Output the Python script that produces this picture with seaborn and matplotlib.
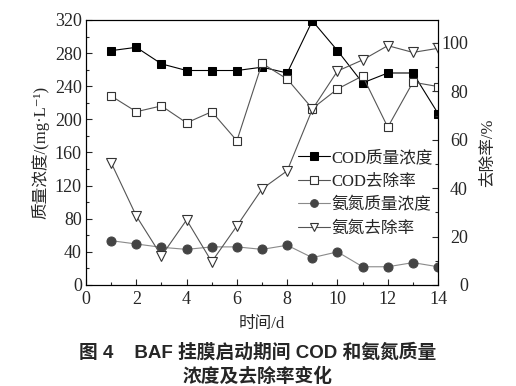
import matplotlib
matplotlib.use("Agg")
import matplotlib.pyplot as plt
from matplotlib.ticker import MultipleLocator
import seaborn as sns
import pandas as pd

days = list(range(1, 15))
cod_conc = [283, 287, 267, 259, 259, 259, 263, 256, 319, 283, 244, 256, 256, 207]
cod_removal = [78.1, 71.6, 74.0, 67.0, 71.6, 59.6, 91.6, 85.1, 72.9, 81.0, 86.4, 65.2, 83.8, 82.0]
nh_conc = [53.5, 49.5, 45.5, 43, 46, 46, 43, 48, 33, 40, 22, 22, 27, 22]
nh_removal = [50.5, 28.5, 12.0, 26.9, 9.6, 24.4, 39.7, 47.2, 72.6, 88.4, 93.0, 98.9, 96.1, 97.8]
labels = ["COD质量浓度", "COD去除率", "氨氮质量浓度", "氨氮去除率"]

sns.set_style("ticks")
plt.rcParams['font.family'] = ['Liberation Serif', 'Noto Sans CJK SC', 'DejaVu Serif']
plt.rcParams['xtick.direction'] = 'in'
plt.rcParams['ytick.direction'] = 'in'

fig = plt.figure(figsize=(5.16, 3.86), dpi=100)
ax = fig.add_axes([0.1667, 0.2617, 0.6823, 0.6865])
ax2 = ax.twinx()

df = pd.DataFrame({"day": days, "cod": cod_conc, "codr": cod_removal,
                   "nh": nh_conc, "nhr": nh_removal})

lw = 0.8
ms = 6
sns.lineplot(data=df, x="day", y="cod", ax=ax, color="black", lw=lw,
             marker="s", markersize=ms, markerfacecolor="black",
             markeredgecolor="black", label=labels[0], legend=False)
sns.lineplot(data=df, x="day", y="nh", ax=ax, color="#8a8a8a", lw=lw,
             marker="o", markersize=ms + 0.5, markerfacecolor="#444444",
             markeredgecolor="#444444", label=labels[2], legend=False)
sns.lineplot(data=df, x="day", y="codr", ax=ax2, color="#555555", lw=lw,
             marker="s", markersize=ms, markerfacecolor="white",
             markeredgecolor="#333333", markeredgewidth=0.8, label=labels[1], legend=False)
sns.lineplot(data=df, x="day", y="nhr", ax=ax2, color="#555555", lw=lw,
             marker="v", markersize=ms + 1.5, markerfacecolor="white",
             markeredgecolor="#333333", markeredgewidth=0.8, label=labels[3], legend=False)

ax.set_xlim(0, 14)
ax.set_ylim(0, 320)
ax2.set_ylim(0, 109.5)
ax.xaxis.set_major_locator(MultipleLocator(2))
ax.xaxis.set_minor_locator(MultipleLocator(1))
ax.yaxis.set_major_locator(MultipleLocator(40))
ax.yaxis.set_minor_locator(MultipleLocator(20))
ax2.yaxis.set_major_locator(MultipleLocator(20))
ax2.yaxis.set_minor_locator(MultipleLocator(10))

for a in (ax, ax2):
    a.tick_params(which='major', length=4, width=0.8, labelsize=13)
    a.tick_params(which='minor', length=2, width=0.8)
    for s in a.spines.values():
        s.set_linewidth(0.8)
        s.set_color("black")
ax.tick_params(axis='x', pad=4)
ax.tick_params(axis='y', pad=3)
ax2.tick_params(axis='y', pad=21.5)
for t in ax2.get_yticklabels():
    t.set_horizontalalignment('right')

ax.set_xlabel("时间/d", fontsize=12, labelpad=6)
ax.set_ylabel("质量浓度/(mg·L⁻¹)", fontsize=12, labelpad=4)
ax2.set_ylabel("去除率/%", fontsize=12, labelpad=9)

h1, l1 = ax.get_legend_handles_labels()
h2, l2 = ax2.get_legend_handles_labels()
hd = dict(zip(l1 + l2, h1 + h2))
ax.legend([hd[l] for l in labels], labels, loc="upper left",
          bbox_to_anchor=(0.584, 0.534), frameon=False, fontsize=12,
          handlelength=1.9, handletextpad=0.1, labelspacing=0.45,
          borderaxespad=0, markerscale=0.85)

cap_font = ['Liberation Sans', 'Noto Sans CJK SC']
fig.text(0.5, 0.088, "图 4    BAF 挂膜启动期间 COD 和氨氮质量", ha="center", va="center",
         fontsize=13.5, fontweight="bold", family=cap_font)
fig.text(0.5, 0.024, "浓度及去除率变化", ha="center", va="center",
         fontsize=13.5, fontweight="bold", family=cap_font)

fig.savefig("out.png", dpi=100)
